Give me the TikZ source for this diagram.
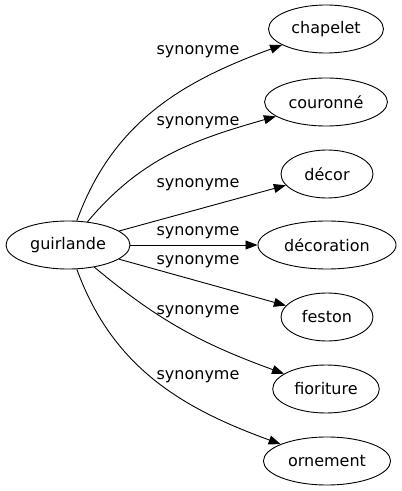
\documentclass[tikz,border=0pt]{standalone}
\usepackage{fontspec}
\setmainfont{DejaVu Sans}
\usetikzlibrary{shapes.geometric}
\usetikzlibrary{arrows.meta}

\tikzset{
 word/.style={draw, ellipse, inner xsep=6pt, inner ysep=2pt, minimum width=92pt, minimum height=48pt, font=\fontsize{16}{19}\selectfont},
 rel/.style={inner sep=1pt, font=\fontsize{16}{19}\selectfont},
}

\begin{document}
\begin{tikzpicture} [x=1pt, y=1pt, line width=.9pt, >={Triangle[length=12pt,width=9pt]}]
\useasboundingbox (0,0) rectangle (402,491);
\node[word] (guirlande) at (68,246) {guirlande};
\node[word] (chapelet) at (326,462) {chapelet};
\node[word] (couronne) at (326,389) {couronné};
\node[word] (decor) at (327,317) {décor};
\node[word] (decoration) at (327,246) {décoration};
\node[word] (feston) at (327,174) {feston};
\node[word] (fioriture) at (326,102) {fioriture};
\node[word] (ornement) at (327,30) {ornement};
% edges
\draw[->] (guirlande) to[out=70, in=200] (chapelet);
\draw[->] (guirlande) to[out=50, in=196] (couronne);
\draw[->] (guirlande) -- (decor);
\draw[->] (guirlande) -- (decoration);
\draw[->] (guirlande) -- (feston);
\draw[->] (guirlande) to[out=-40, in=160] (fioriture);
\draw[->] (guirlande) to[out=-70, in=160] (ornement);
% labels
\node[rel] (l1) at (198,439) {synonyme};
\node[rel] (l2) at (198,368) {synonyme};
\node[rel] (l3) at (198,306) {synonyme};
\node[rel] (l4) at (198,258) {synonyme};
\node[rel] (l5) at (198,229) {synonyme};
\node[rel] (l6) at (198,179) {synonyme};
\node[rel] (l7) at (198,114) {synonyme};
\end{tikzpicture}
\end{document}
